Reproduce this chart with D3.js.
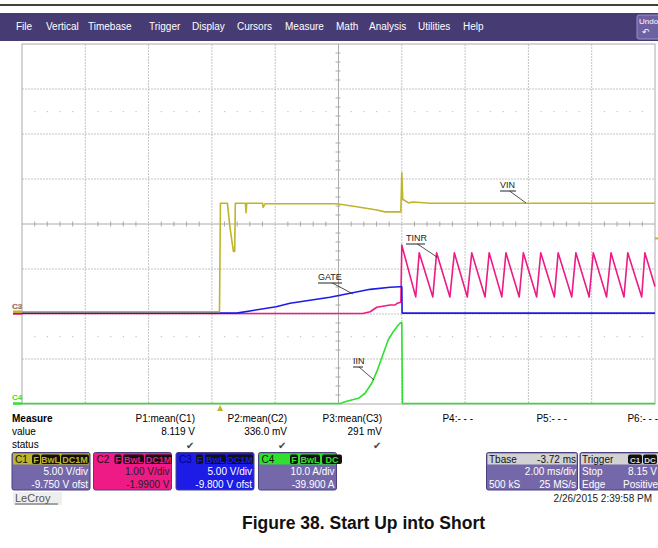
<!DOCTYPE html>
<html>
<head>
<meta charset="utf-8">
<script src="https://cdn.jsdelivr.net/npm/d3@7"></script>
<style>
  body { margin: 0; background: #fff; }
  svg { display: block; font-family: "Liberation Sans", Arial, sans-serif; }
</style>
</head>
<body>
<svg id="chart" width="658" height="548"></svg>
<script>
// time in ms, values in channel units
var c1 = [[0,0],[6.24,0],[6.27,12.05],[6.49,12.05],[6.57,9.4],[6.68,6.7],[6.72,6.7],[6.74,12.05],[7.06,12.05],[7.08,11.0],[7.10,12.05],
          [7.60,12.05],[7.62,11.6],[7.68,12.0],[9.94,12.0],[10.58,11.67],[11.21,11.3],[11.47,11.1],[11.97,11.1],[12.0,15.45],
          [12.03,12.5],[12.21,12.1],[12.36,12.2],[12.89,12.05],[20,12.05]];
var c2 = [[0,0],[10.77,0],[11.0,0.04],[11.21,0.14],[11.63,0.19],[11.79,0.19],[11.86,0.23],[11.97,0.25],[12.0,1.52],
          [12.44,0.37],[12.55,1.35],[12.98,0.37],[13.10,1.35],[13.52,0.37],[13.66,1.35],[14.07,0.37],[14.21,1.35],
          [14.63,0.37],[14.76,1.35],[15.16,0.37],[15.29,1.35],[15.71,0.37],[15.84,1.35],[16.26,0.37],[16.39,1.35],
          [16.82,0.37],[16.94,1.35],[17.37,0.37],[17.50,1.35],[17.92,0.37],[18.05,1.35],[18.47,0.37],[18.61,1.35],
          [19.02,0.37],[19.14,1.35],[19.58,0.37],[19.68,1.35],[20.0,0.60]];
var c3 = [[0,-0.1],[6.78,-0.1],[8.03,0.61],[8.47,0.99],[9.73,1.66],[10.05,1.88],[11.0,2.54],[11.63,2.77],[11.94,2.83],
          [12.0,2.83],[12.01,-0.1],[20,-0.1]];
var c4 = [[0,0],[10.05,0],[10.26,0.5],[10.63,1.17],[10.84,2.29],[11.05,4.51],[11.21,7.08],[11.42,11.17],[11.57,14.12],
          [11.73,15.97],[11.89,17.46],[11.97,17.97],[12.0,17.97],[12.02,0],[20,0]];

// channel settings: volts/div and offset
var chanNames = ["C1","C2","C3","C4"];
var chanDiv = [5, 1, 5, 10];
var chanOfst = [-9.75, -1.99, -9.8, -39.9];
var chanColor = ["#bdb52a","#ee1a86","#1c1ce6","#2fe02f"];

var menuItems = ["File","Vertical","Timebase","Trigger","Display","Cursors","Measure","Math","Analysis","Utilities","Help"];
var menuX = [16,46,88,149,192,237,285,336,369,418,463];

var measHead = ["P1:mean(C1)","P2:mean(C2)","P3:mean(C3)","P4:- - -","P5:- - -","P6:- - -"];
var measVal = ["8.119 V","336.0 mV","291 mV","","",""];

var svg = d3.select("#chart");
var x = d3.scaleLinear().domain([0, 20]).range([22, 655]);
var ys = chanDiv.map(function(d, i) {
  var c = -chanOfst[i];
  return d3.scaleLinear().domain([c - 4*d, c + 4*d]).range([404, 44]);
});
var grid = d3.scaleLinear().domain([0, 8]).range([404, 44]);

// top rule + menu
svg.append("line").attr("x1",0).attr("x2",658).attr("y1",5).attr("y2",5).attr("stroke","#000").attr("stroke-width",1.5);
svg.append("rect").attr("x",0).attr("y",13).attr("width",658).attr("height",28).attr("fill","#473b74");
svg.selectAll(".menu").data(menuItems).enter().append("text")
  .attr("x", function(d, i) { return menuX[i]; }).attr("y", 30)
  .attr("fill","#fff").style("font-size","10px").text(function(d) { return d; });
svg.append("rect").attr("x",637).attr("y",15).attr("width",24).attr("height",24).attr("rx",2)
  .attr("fill","#6d61a3").attr("stroke","#9a90c8");
svg.append("text").attr("x",639).attr("y",24).attr("fill","#fff").style("font-size","8px").text("Undo");
svg.append("text").attr("x",642).attr("y",35).attr("fill","#fff").style("font-size","9px").text("\u21B6");

// grid
var g = svg.append("g");
d3.range(1, 10).forEach(function(i) {
  var xx = x(i*2);
  g.append("line").attr("x1",xx).attr("x2",xx).attr("y1",44).attr("y2",404)
    .attr("stroke", i == 5 ? "#aaa" : "#c4c4c4").attr("stroke-dasharray", i == 5 ? null : "2,1");
});
d3.range(1, 8).forEach(function(i) {
  var yy = grid(i);
  g.append("line").attr("x1",22).attr("x2",655).attr("y1",yy).attr("y2",yy)
    .attr("stroke", i == 4 ? "#aaa" : "#c4c4c4").attr("stroke-dasharray", i == 4 ? null : "2,1");
});
d3.range(0, 50).forEach(function(i) {
  if (i % 5 == 0) return;
  var xx = x(i*0.4);
  g.append("line").attr("x1",xx).attr("x2",xx).attr("y1",221.5).attr("y2",226.5).attr("stroke","#aaa");
  [1.5, 6.5].forEach(function(r) {
    g.append("rect").attr("x",xx-0.5).attr("y",grid(r)-0.5).attr("width",1.2).attr("height",1.2).attr("fill","#c4c4c4");
  });
});
d3.range(0, 40).forEach(function(i) {
  if (i % 5 == 0) return;
  var yy = grid(i*0.2);
  g.append("line").attr("x1",335.5).attr("x2",340.5).attr("y1",yy).attr("y2",yy).attr("stroke","#aaa");
});
g.append("rect").attr("x",22).attr("y",44).attr("width",633).attr("height",360)
  .attr("fill","none").attr("stroke","#aaa");

// traces
var order = [3, 1, 2, 0];
var data = [c1, c2, c3, c4];
order.forEach(function(i) {
  var line = d3.line().x(function(d) { return x(d[0]); }).y(function(d) { return ys[i](d[1]); });
  svg.append("path").datum(data[i]).attr("d", line).attr("fill","none")
    .attr("stroke", chanColor[i]).attr("stroke-width", 1.6).attr("stroke-linejoin","round");
});

// channel ground markers (C1..C3 labels sit on top of each other, only C3 shows)
[1, 2, 0].forEach(function(i) {
  svg.append("line").attr("x1",13).attr("x2",22).attr("y1",ys[i](0)).attr("y2",ys[i](0))
    .attr("stroke",chanColor[i]).attr("stroke-width",2.5);
});
svg.append("text").attr("x",12).attr("y",ys[2](0)-3).attr("fill","#7a2cc8").attr("stroke","#bdb52a").attr("stroke-width",0.4)
  .style("font-size","8px").style("font-weight","bold").text("C3");
svg.append("line").attr("x1",13).attr("x2",22).attr("y1",ys[3](0)).attr("y2",ys[3](0))
  .attr("stroke",chanColor[3]).attr("stroke-width",2.5);
svg.append("text").attr("x",12).attr("y",ys[3](0)-4).attr("fill",chanColor[3])
  .style("font-size","8px").style("font-weight","bold").text("C4");

// trigger markers
svg.append("path").attr("d","M" + x(6.26) + ",405l-3,6h6z").attr("fill","#bdb52a");
svg.append("line").attr("x1",655).attr("x2",658).attr("y1",ys[0](8.15)).attr("y2",ys[0](8.15))
  .attr("stroke","#bdb52a").attr("stroke-width",2);

// annotations
var notes = [
  {t:"VIN", x:500, y:188, w:16, ex:526, ey:203},
  {t:"TINR", x:406, y:241, w:19, ex:437, ey:257},
  {t:"GATE", x:318, y:280, w:24, ex:353, ey:294},
  {t:"IIN", x:353, y:364, w:10, ex:374, ey:380}
];
notes.forEach(function(n) {
  svg.append("text").attr("x",n.x).attr("y",n.y).attr("fill","#222").style("font-size","9px").text(n.t);
  svg.append("line").attr("x1",n.x).attr("x2",n.x+n.w).attr("y1",n.y+3).attr("y2",n.y+3).attr("stroke","#222");
  svg.append("line").attr("x1",n.x+n.w*0.6).attr("x2",n.ex).attr("y1",n.y+3).attr("y2",n.ey).attr("stroke","#222").attr("stroke-width",0.8);
});

// measure panel
svg.append("text").attr("x",12).attr("y",422).style("font-size","10px").style("font-weight","bold").text("Measure");
svg.append("text").attr("x",12).attr("y",435).style("font-size","10px").text("value");
svg.append("text").attr("x",12).attr("y",448).style("font-size","10px").text("status");
var colR = [195, 287, 382, 473, 567, 658];
measHead.forEach(function(h, i) {
  svg.append("text").attr("x",colR[i]).attr("y",422).attr("text-anchor","end").style("font-size","10px").text(h);
  if (measVal[i]) {
    svg.append("text").attr("x",colR[i]).attr("y",435).attr("text-anchor","end").style("font-size","10px").text(measVal[i]);
    svg.append("text").attr("x",colR[i]-5).attr("y",449).attr("text-anchor","middle").attr("fill","#444").style("font-size","10px").text("\u2714");
  }
});

// channel boxes
var boxX = [12, 93.5, 176, 258.5];
var boxBody = ["#7468aa","#ee1a86","#1c1ce6","#7468aa"];
var badges = [["F","BwL","DC1M"],["F","BwL","DC1M"],["F","BwL","DC1M"],["F","BwL","DC"]];
var badgeX = [[32,41,61],[114.5,123,145],[196,205,227],[290,300,322]];
var badgeW = [[8,19,28],[7,21,27],[7,21,26],[8,20,20]];
var line1 = ["5.00 V/div","1.00 V/div","5.00 V/div","10.0 A/div"];
var line2 = ["-9.750 V ofst","-1.9900 V","-9.800 V ofst","-39.900 A"];
boxX.forEach(function(bx, i) {
  var w = 78;
  svg.append("rect").attr("x",bx).attr("y",452.5).attr("width",w).attr("height",37.5).attr("rx",2)
    .attr("fill", i == 3 ? "#7468aa" : boxBody[i]).attr("stroke","#4a4080");
  svg.append("rect").attr("x",bx+1).attr("y",453.5).attr("width",w-2).attr("height",11).attr("fill",chanColor[i]);
  svg.append("text").attr("x",bx+3).attr("y",462.5).attr("fill", i == 2 ? "#000080" : "#111").style("font-size","10px").text(chanNames[i]);
  badges[i].forEach(function(b, j) {
    svg.append("rect").attr("x",badgeX[i][j]).attr("y",454.5).attr("width",badgeW[i][j]).attr("height",9.5).attr("rx",2).attr("fill","#111");
    svg.append("text").attr("x",badgeX[i][j] + badgeW[i][j]/2).attr("y",462.5).attr("text-anchor","middle")
      .attr("fill",chanColor[i]).style("font-size","9px").style("font-weight","bold").text(b);
  });
  var tc = i == 1 ? "#222" : "#fff";
  svg.append("text").attr("x",bx+w-2).attr("y",475).attr("text-anchor","end").attr("fill",tc).style("font-size","10px").text(line1[i]);
  svg.append("text").attr("x",bx+w-2).attr("y",488).attr("text-anchor","end").attr("fill",tc).style("font-size","10px").text(line2[i]);
});

// timebase + trigger boxes
[[486.5, 91], [580, 80]].forEach(function(b) {
  svg.append("rect").attr("x",b[0]).attr("y",452.5).attr("width",b[1]).attr("height",37.5).attr("rx",2)
    .attr("fill","#7468aa").attr("stroke","#4a4080");
  svg.append("rect").attr("x",b[0]+1).attr("y",453.5).attr("width",b[1]-2).attr("height",11).attr("fill","#d2d2d2");
});
function txt(x0, y0, s, anchor, fill) {
  svg.append("text").attr("x",x0).attr("y",y0).attr("text-anchor",anchor).attr("fill",fill).style("font-size","10px").text(s);
}
txt(489,462.5,"Tbase","start","#111"); txt(576,462.5,"-3.72 ms","end","#111");
txt(576,475,"2.00 ms/div","end","#fff"); txt(489,488,"500 kS","start","#fff"); txt(576,488,"25 MS/s","end","#fff");
txt(582,462.5,"Trigger","start","#111");
[["C1",628,14],["DC",643,14]].forEach(function(b) {
  svg.append("rect").attr("x",b[1]).attr("y",454.5).attr("width",b[2]).attr("height",9.5).attr("rx",2).attr("fill","#111");
  svg.append("text").attr("x",b[1]+b[2]/2).attr("y",462.5).attr("text-anchor","middle").attr("fill","#ddd")
    .style("font-size","8px").style("font-weight","bold").text(b[0]);
});
txt(582,475,"Stop","start","#fff"); txt(657,475,"8.15 V","end","#fff");
txt(582,488,"Edge","start","#fff"); txt(658,488,"Positive","end","#fff");
txt(652,502,"2/26/2015 2:39:58 PM","end","#222");

// logo
svg.append("rect").attr("x",13).attr("y",492).attr("width",49).attr("height",13).attr("fill","#eee");
svg.append("text").attr("x",15).attr("y",502).attr("fill","#555").style("font-size","11px").text("LeCroy");
svg.append("line").attr("x1",15).attr("x2",58).attr("y1",504).attr("y2",504).attr("stroke","#555");

// caption
svg.append("text").attr("x",363.5).attr("y",529).attr("text-anchor","middle").style("font-size","17.5px")
  .style("font-weight","bold").attr("fill","#111").text("Figure 38. Start Up into Short");
</script>
</body>
</html>
